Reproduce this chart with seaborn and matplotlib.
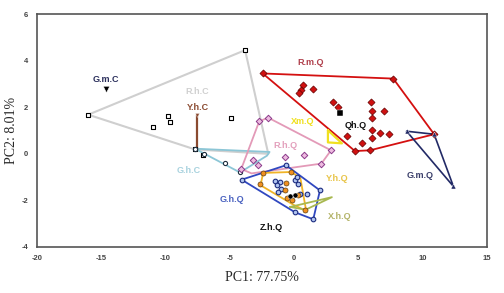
import matplotlib
matplotlib.use("Agg")
import matplotlib.pyplot as plt
import seaborn as sns
import pandas as pd

# hull outlines (closed) and sample points per group
rhc_hull_x = [-16.0, -3.8, -2.0, -7.7, -16.0]
rhc_hull_y = [1.68, 4.45, 0.0, 0.19, 1.68]
rhc_x = [-16.0, -3.8, -11.0, -9.77, -9.64, -4.92, -7.08, -7.7]
rhc_y = [1.68, 4.45, 1.15, 1.61, 1.37, 1.54, -0.06, 0.19]

ghc_hull_x = [-7.7, -1.9, -2.1, -4.2, -7.7]
ghc_hull_y = [0.22, 0.08, -0.08, -0.8, 0.22]
ghc_x = [-7.0, -5.37, -4.2, -7.7]
ghc_y = [-0.02, -0.41, -0.8, 0.22]

yhc_x = [-7.57, -7.57]
yhc_y = [1.65, 0.15]

gmc_x = [-14.6]
gmc_y = [2.8]

rmq_hull_x = [-2.43, 7.72, 10.9, 5.9, 4.74, -2.43]
rmq_hull_y = [3.45, 3.23, 0.84, 0.15, 0.12, 3.45]
rmq_x = [-2.43, 7.72, 10.9, 5.9, 4.74, 0.73, 0.52, 0.41, 1.5, 3.06, 3.45, 4.15,
         5.96, 6.09, 6.09, 7.0, 6.09, 6.69, 7.39, 6.09, 5.26]
rmq_y = [3.45, 3.23, 0.84, 0.15, 0.12, 2.94, 2.76, 2.59, 2.77, 2.23, 2.01, 0.75,
         2.23, 1.83, 1.55, 1.83, 1.01, 0.89, 0.87, 0.70, 0.47]

qhq_x = [3.6]
qhq_y = [1.75]

xmq_hull_x = [2.64, 2.64, 3.73, 2.64]
xmq_hull_y = [1.01, 0.49, 0.45, 1.01]

rhq_hull_x = [-2.7, -2.0, 2.88, 2.13, -3.3, -4.1, -2.7]
rhq_hull_y = [1.40, 1.55, 0.15, -0.42, -0.84, -0.65, 1.40]
rhq_x = [-2.7, -2.0, 2.88, 2.13, -4.1, -0.7, 0.78, -3.16, -2.83]
rhq_y = [1.40, 1.55, 0.15, -0.42, -0.65, -0.14, -0.06, -0.25, -0.49]

ghq_hull_x = [-4.07, -0.62, 2.02, 1.5, 0.08, -4.07]
ghq_hull_y = [-1.11, -0.49, -1.57, -2.81, -2.51, -1.11]
ghq_x = [-4.07, -0.62, 2.02, 1.5, 0.08, -1.48, -1.09, -1.35, -1.03, 0.08, 0.33,
         0.99, 0.47, 0.21, -1.22]
ghq_y = [-1.11, -0.49, -1.57, -2.81, -2.51, -1.17, -1.21, -1.35, -1.50, -1.11,
         -1.28, -1.71, -1.71, -1.00, -1.64]

yhq_hull_x = [-2.4, -0.2, 0.5, 0.95, 0.0, -2.6, -2.4]
yhq_hull_y = [-0.82, -0.78, -1.05, -2.45, -2.2, -1.35, -0.82]
yhq_x = [-0.62, -2.64, -0.70, -0.57, -0.18, 0.33, 0.86, -2.4, -0.2]
yhq_y = [-1.25, -1.31, -1.57, -1.88, -1.97, -1.78, -2.43, -0.82, -0.78]

zhq_x = [0.08, -0.31]
zhq_y = [-1.78, -1.83]

xhq_hull_x = [-0.3, 2.95, 0.9, -0.3]
xhq_hull_y = [-2.28, -1.86, -2.4, -2.28]

gmq_hull_x = [8.76, 10.9, 12.4, 8.76]
gmq_hull_y = [0.97, 0.84, -1.40, 0.97]

labels = ["G.m.C", "R.h.C", "Y.h.C", "G.h.C", "R.m.Q", "Xm.Q", "Qh.Q", "R.h.Q",
          "G.h.Q", "Z.h.Q", "Y.h.Q", "X.h.Q", "G.m.Q"]
label_x = [-14.6, -7.49, -7.46, -8.2, 1.27, 0.7, 4.82, -0.7, -4.84, -1.79, 3.34, 3.58, 9.82]
label_y = [3.2, 2.69, 2.0, -0.71, 3.92, 1.40, 1.22, 0.37, -1.96, -3.16, -1.07, -2.69, -0.92]
label_colors = ["#2b2f5c", "#d0d0d0", "#8a4a30", "#a8d2de", "#b0404c", "#f0e020", "#111111",
                "#e3a0bc", "#4a62c0", "#111111", "#e8c448", "#b4b46a", "#3a3e6a"]

sns.set_style("white")
plt.rcParams["font.family"] = ["Liberation Sans", "DejaVu Sans"]
plt.rcParams["axes.unicode_minus"] = False

fig, ax = plt.subplots(figsize=(5.04, 2.93), dpi=100)
fig.subplots_adjust(left=0.073, right=0.966, top=0.952, bottom=0.157)

# outlines
ax.plot(rhc_hull_x, rhc_hull_y, color="#cfcfcf", lw=1.5, zorder=1)
ax.plot(ghc_hull_x, ghc_hull_y, color="#8cc6d6", lw=1.3, zorder=2)
ax.plot(yhc_x, yhc_y, color="#8a4a30", lw=1.6, zorder=3)
ax.plot(rmq_hull_x, rmq_hull_y, color="#d41010", lw=1.3, zorder=2)
ax.plot(xmq_hull_x, xmq_hull_y, color="#f0e020", lw=1.6, zorder=3)
ax.plot(rhq_hull_x, rhq_hull_y, color="#e39ab8", lw=1.3, zorder=2)
ax.plot(ghq_hull_x, ghq_hull_y, color="#3048c0", lw=1.3, zorder=3)
ax.plot(yhq_hull_x, yhq_hull_y, color="#f0b428", lw=1.3, zorder=3)
ax.plot(xhq_hull_x, xhq_hull_y, color="#a8b850", lw=1.3, zorder=4)
ax.plot(gmq_hull_x, gmq_hull_y, color="#222a66", lw=1.2, zorder=2)

# points
sns.scatterplot(x=rhc_x, y=rhc_y, marker="s", s=11, color="white", edgecolor="black",
                linewidth=0.8, ax=ax, zorder=5)
sns.scatterplot(x=ghc_x, y=ghc_y, marker="o", s=9, color="white", edgecolor="#203040",
                linewidth=0.8, ax=ax, zorder=5)
sns.scatterplot(x=[yhc_x[0]], y=[yhc_y[0]], marker="v", s=8, color="#8a4a30", ax=ax, zorder=5)
sns.scatterplot(x=gmc_x, y=gmc_y, marker="v", s=22, color="black", ax=ax, zorder=5)
sns.scatterplot(x=rmq_x, y=rmq_y, marker="D", s=13, color="#d01010", edgecolor="#600000",
                linewidth=0.5, ax=ax, zorder=5)
sns.scatterplot(x=qhq_x, y=qhq_y, marker="s", s=15, color="black", ax=ax, zorder=5)
sns.scatterplot(x=rhq_x, y=rhq_y, marker="D", s=11, color="#eebbe0", edgecolor="#8a3a8a",
                linewidth=0.7, ax=ax, zorder=5)
sns.scatterplot(x=ghq_x, y=ghq_y, marker="o", s=11, color="#b0c4f0", edgecolor="#1c2c80",
                linewidth=0.8, ax=ax, zorder=6)
sns.scatterplot(x=yhq_x, y=yhq_y, marker="o", s=13, color="#f09020", edgecolor="#604010",
                linewidth=0.5, ax=ax, zorder=6)
sns.scatterplot(x=zhq_x, y=zhq_y, marker="o", s=13, color="black", ax=ax, zorder=7)
sns.scatterplot(x=gmq_hull_x[:3], y=gmq_hull_y[:3], marker="^", s=13, color="#222a66",
                ax=ax, zorder=5)

for t, lx, ly, c in zip(labels, label_x, label_y, label_colors):
    ax.text(lx, ly, t, color=c, fontsize=6.5, fontweight="bold", ha="center", va="center",
            zorder=8)

ax.set_xlim(-20, 15)
ax.set_ylim(-4, 6)
ax.set_xticks(range(-20, 16, 5))
ax.set_yticks(range(-4, 7, 2))
ax.tick_params(axis="both", labelsize=5.5, labelcolor="#444444", length=3, width=0.8,
               direction="out", color="#444444", pad=3)
for lab in ax.get_xticklabels() + ax.get_yticklabels():
    lab.set_fontweight("bold")
for side in ["left", "bottom", "top", "right"]:
    ax.spines[side].set_color("#555555")
    ax.spines[side].set_linewidth(1.2)

ax.set_xlabel("PC1: 77.75%", fontsize=10, family=["Liberation Serif"], labelpad=6)
ax.set_ylabel("PC2: 8.01%", fontsize=10, family=["Liberation Serif"], labelpad=3)

fig.savefig("out.png", dpi=100)
